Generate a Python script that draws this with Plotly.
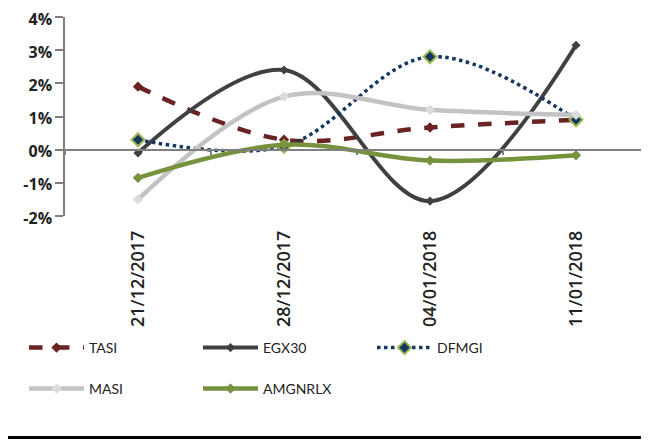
import plotly.graph_objects as go

dates = ["21/12/2017", "28/12/2017", "04/01/2018", "11/01/2018"]
tasi = [1.9, 0.3, 0.67, 0.9]
egx30 = [-0.1, 2.4, -1.55, 3.15]
dfmgi = [0.3, 0.1, 2.8, 0.9]
masi = [-1.5, 1.6, 1.2, 1.05]
amgnrlx = [-0.85, 0.15, -0.33, -0.17]
y_ticks = [-2, -1, 0, 1, 2, 3, 4]
y_labels = ["-2%", "-1%", "0%", "1%", "2%", "3%", "4%"]

FONT = "Open Sans"
fig = go.Figure()

def add(name, vals, color, width, dash, msize, mcolor, legend, mline=None, mlw=0):
    fig.add_trace(go.Scatter(
        x=dates, y=vals, name=name, mode="lines+markers", legend=legend,
        line=dict(color=color, width=width, dash=dash, shape="spline", smoothing=1),
        marker=dict(symbol="diamond", size=msize, color=mcolor,
                    line=dict(color=mline or mcolor, width=mlw)),
    ))

add("TASI", tasi, "#6b2222", 4.5, "dash", 8, "#6b2222", "legend")
add("EGX30", egx30, "#404040", 4, "solid", 7, "#404040", "legend2")
add("DFMGI", dfmgi, "#17375e", 3.5, "dot", 10, "#17375e", "legend3", "#9bbb59", 2)
add("MASI", masi, "#c3c3c3", 4.5, "solid", 8, "#dcdcdc", "legend4")
add("AMGNRLX", amgnrlx, "#76923c", 4.5, "solid", 8, "#76923c", "legend5")

# helper trace for the zero-line axis
fig.add_trace(go.Scatter(x=dates, y=[0] * len(dates), xaxis="x2", mode="lines",
                         line=dict(width=0), opacity=0, showlegend=False, hoverinfo="skip"))

leg_common = dict(orientation="v", xref="paper", xanchor="left",
                  yref="paper", yanchor="top", itemwidth=55,
                  font=dict(size=14, family="Lato", color="#222222"),
                  bgcolor="rgba(0,0,0,0)")
row1, row2 = -0.583, -0.789
col1, col2, col3 = -0.0702, 0.2277, 0.5257

fig.update_layout(
    width=641, height=432,
    margin=dict(l=57, r=0, t=9, b=224, autoexpand=False),
    paper_bgcolor="white", plot_bgcolor="white",
    font=dict(family=FONT, color="#222222"),
    xaxis=dict(type="category", range=[-0.5, 3.5], showgrid=False, showline=False,
               zeroline=False, ticks="", tickangle=-90, ticklabelstandoff=10,
               tickfont=dict(size=18, family=FONT, color="#222222", weight=600)),
    xaxis2=dict(type="category", range=[-0.5, 3.5], overlaying="x", anchor="free",
                position=1/3, side="bottom", showline=True, linecolor="#7f7f7f", linewidth=1.5,
                ticks="outside", ticklen=5, tickcolor="#7f7f7f", tickwidth=1.5,
                tickson="boundaries", showticklabels=False, showgrid=False, zeroline=False),
    yaxis=dict(range=[-2, 4], tickvals=y_ticks, ticktext=y_labels, showgrid=False,
               zeroline=False, showline=True, linecolor="#7f7f7f", linewidth=1.5,
               ticks="outside", ticklen=8, tickcolor="#7f7f7f", tickwidth=1.5,
               ticklabeloverflow="allow", ticklabelshift=2,
               tickfont=dict(size=16, family=FONT, color="#222222", weight="bold")),
    legend=dict(leg_common, x=col1, y=row1),
    legend2=dict(leg_common, x=col2, y=row1),
    legend3=dict(leg_common, x=col3, y=row1),
    legend4=dict(leg_common, x=col1, y=row2),
    legend5=dict(leg_common, x=col2, y=row2),
    showlegend=True,
)

fig.add_shape(type="line", xref="paper", yref="paper", x0=-0.12, x1=1.02, y0=-1.113, y1=-1.113,
              line=dict(color="black", width=3))

fig.write_html("out.html")
